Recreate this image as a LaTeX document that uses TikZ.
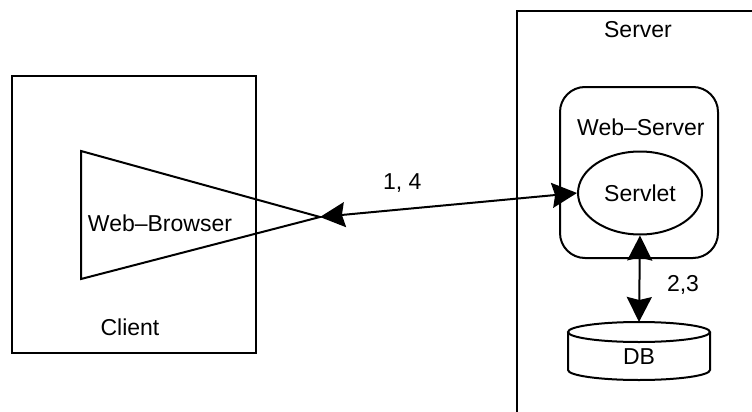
\documentclass[tikz,border=0pt]{standalone}
\usepackage{fontspec}
\setmainfont{Liberation Sans}
\usepackage{tikz}
\usetikzlibrary{arrows.meta,shapes.geometric}
\tikzstyle{box}=[draw, line width=2pt]
\tikzstyle{txt}=[font=\fontsize{23}{27}\selectfont, inner sep=0pt]
\tikzstyle{arrow}=[draw=black, line width=2pt, {Stealth[length=25pt,width=25pt,inset=3pt]}-{Stealth[length=25pt,width=25pt,inset=3pt]}]

\begin{document}
\begin{tikzpicture}[x=1pt, y=-1pt]
		   \clip (0,0) rectangle (752,412);
		   \begin{scope}
			   % client side
			   \draw[box] (12,76) rectangle (256,353);
			   \draw[box, line join=miter] (81,151) -- (81,279) -- (320,217) -- cycle;
			   \coordinate (tip) at (320,217);
			   \node (browser) at (160,223)[txt] {Web–Browser};
			   \node (client) at (130,327)[txt] {Client};
		   \end{scope}
		   \begin{scope}
			   % server side
			   \draw[box] (517,11) rectangle (800,460);
			   \node (server) at (638,30)[txt] {Server};
			   \node (webserver) at (639,172.5)[box, rounded corners=25pt, minimum width=158pt, minimum height=171pt] {};
			   \node (wslabel) at (577,127)[txt, anchor=west] {Web–Server};
			   \node (servlet) at (640,193)[box, ellipse, minimum width=124pt, minimum height=83pt, txt] {Servlet};
			   \draw[box] (568,332) -- (568,370) arc[start angle=180, end angle=0, x radius=71, y radius=10] -- (710,332);
			   \draw[box] (639,332) ellipse[x radius=71, y radius=10];
			   \coordinate (dbtop) at (639,322);
			   \node (db) at (639,357)[txt] {DB};
		   \end{scope}
		   \begin{scope}
			   \path [arrow] (tip) -- node[txt, above=16pt, pos=0.32] (l14) {1, 4} (servlet.west);
			   \path [arrow] (servlet.south) -- (dbtop);
			   \node (l23) at (683,285)[txt] {2,3};
		   \end{scope}
	   \end{tikzpicture}
\end{document}
